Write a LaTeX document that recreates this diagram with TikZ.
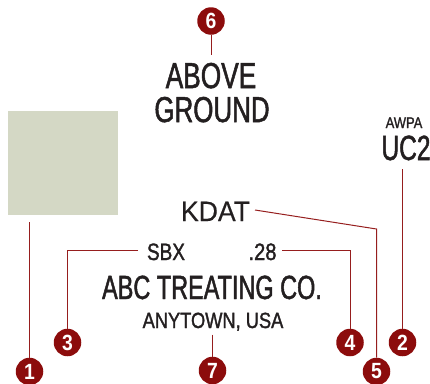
\documentclass[tikz,border=0pt]{standalone}
\usepackage{fontspec}
\setmainfont{Liberation Sans}
\newcommand\cf[2]{\fontspec[FakeStretch=#1,FakeBold=1.4]{Liberation Sans}\fontsize{#2}{#2}\selectfont}
\newcommand\cfr[2]{\fontspec[FakeStretch=#1,FakeBold=0.4]{Liberation Sans}\fontsize{#2}{#2}\selectfont}
\newcommand\numfont{\fontspec[FakeStretch=0.88]{Liberation Sans Bold}\fontsize{22}{22}\selectfont}
\definecolor{mark}{RGB}{140,12,12}
\definecolor{leader}{RGB}{150,30,30}
\definecolor{ink}{RGB}{35,31,32}
\definecolor{swatch}{RGB}{212,216,197}
\begin{document}
\begin{tikzpicture}[x=1pt,y=-1pt,
  callout/.style={circle,fill=mark,text=white,minimum size=27.5pt,inner sep=0pt,font=\numfont},
  lbl/.style={anchor=base,inner sep=0pt,text=ink},
  leaderline/.style={draw=leader,line width=1pt}]
\useasboundingbox (0,0) rectangle (430,383);
% swatch
\fill[swatch] (8,111) rectangle (118,215);
% texts
\node[lbl,font=\cf{0.73}{36}] (above) at (211,88) {ABOVE};
\node[lbl,font=\cf{0.72}{36}] (ground) at (212,122) {GROUND};
\node[lbl,font=\cf{0.84}{15.4}] (awpa) at (404,128) {AWPA};
\node[lbl,font=\cf{0.70}{35}] (uc) at (406,160) {UC2};
\node[lbl,font=\cfr{0.95}{28}] (kdat) at (215.5,221) {KDAT};
\node[lbl,font=\cf{0.8}{23.7}] (sbx) at (166,260) {SBX};
\node[lbl,font=\cf{0.85}{23.7}] (num) at (262.5,260) {.28};
\node[lbl,font=\cf{0.70}{33.5}] (abc) at (212,299) {ABC TREATING CO.};
\node[lbl,font=\cf{0.83}{22}] (town) at (213,328) {ANYTOWN, USA};
% leader ends
\coordinate (e6) at (211,55);
\coordinate (e1) at (29.5,222);
\coordinate (e2) at (402.5,169);
\coordinate (e3a) at (138,250);
\coordinate (e3b) at (67.5,250);
\coordinate (e4a) at (282,250);
\coordinate (e4b) at (350,250);
\coordinate (e5a) at (255,210);
\coordinate (e5b) at (376.5,229);
\coordinate (e7) at (212.5,334.5);
% callouts
\node[callout] (c6) at (211,21) {6};
\node[callout] (c3) at (67.5,342.5) {3};
\node[callout] (c4) at (350,342.5) {4};
\node[callout] (c2) at (402.5,342.5) {2};
\node[callout] (c1) at (29.5,371.5) {1};
\node[callout] (c7) at (212.5,370.5) {7};
\node[callout] (c5) at (376.5,371.5) {5};
% leaders
\draw[leaderline] (c6) -- (e6);
\draw[leaderline] (e1) -- (c1);
\draw[leaderline] (e2) -- (c2);
\draw[leaderline] (e3a) -- (e3b) -- (c3);
\draw[leaderline] (e4a) -- (e4b) -- (c4);
\draw[leaderline] (e5a) -- (e5b) -- (c5);
\draw[leaderline] (e7) -- (c7);
\end{tikzpicture}
\end{document}
